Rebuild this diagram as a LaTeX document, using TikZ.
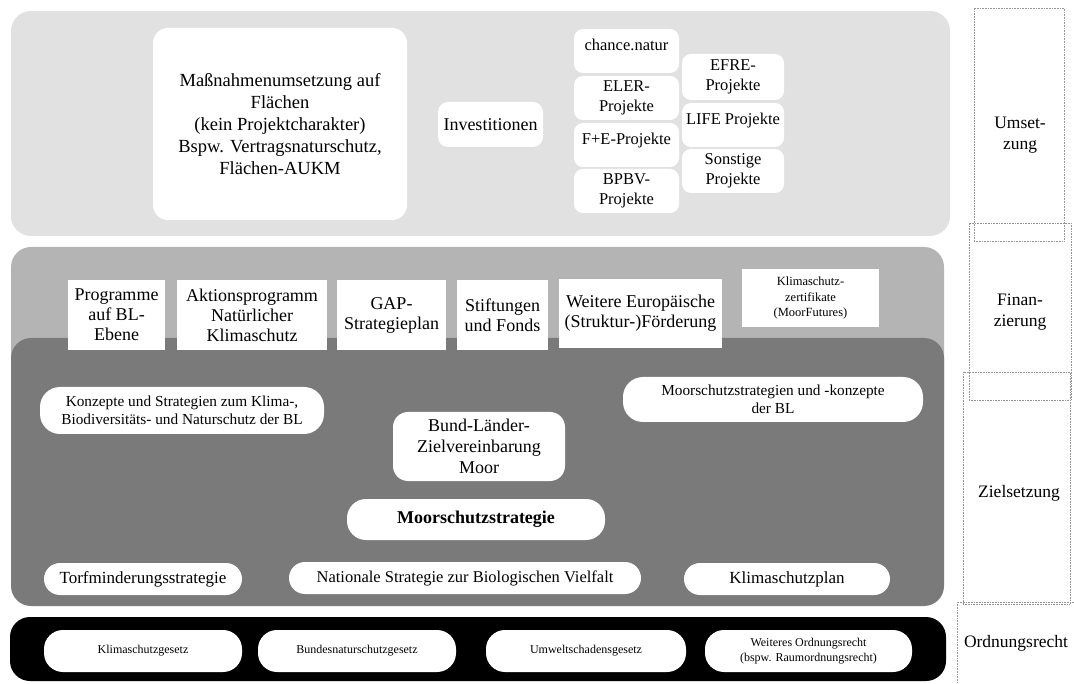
\documentclass[tikz,border=0pt]{standalone}
\usepackage{fontspec}
\setmainfont{Liberation Serif}
\newcommand\myfs[2]{\fontsize{#1}{#2}\selectfont}
\definecolor{topgray}{RGB}{225,225,225}
\definecolor{midgray}{RGB}{180,180,180}
\definecolor{darkgray}{RGB}{122,122,122}
\definecolor{dotgray}{RGB}{150,150,150}
\tikzset{
  panel/.style={inner sep=0pt, rounded corners=20pt, draw=none},
  wbox/.style={fill=white, inner sep=0pt, align=center, text=black, draw=none},
  projbox/.style={wbox, rounded corners=9pt, minimum width=105pt, minimum height=44pt, font=\myfs{16.5}{19.5}},
  finbox/.style={wbox, minimum height=70pt, font=\myfs{18}{20}},
  pill/.style={wbox, rounded corners=16pt, font=\myfs{16.5}{19}},
  lawpill/.style={wbox, rounded corners=19pt, minimum height=42pt, font=\myfs{12}{15}},
  levelbox/.style={draw=dotgray, densely dotted, line width=0.6pt, inner sep=0pt},
  levellabel/.style={align=center, font=\myfs{17.5}{21}, inner sep=0pt}
}
\begin{document}
\begin{tikzpicture}[x=1pt,y=-1pt]
\useasboundingbox (0,0) rectangle (1074,684);
\fill[white] (0,0) rectangle (1074,684);

% ---- level boxes (right column)
\node[levelbox, minimum width=90pt, minimum height=233pt] (lvU) at (1019,124.5) {};
\node[levelbox, minimum width=102pt, minimum height=177pt] (lvF) at (1020,311.5) {};
\node[levelbox, minimum width=107pt, minimum height=232pt] (lvZ) at (1016.5,488) {};
\node[levelbox, minimum width=130pt, minimum height=100pt] (lvO) at (1022,652) {};
\node[levellabel] (lU) at (1020,135) {Umset-\\zung};
\node[levellabel] (lF) at (1020,312) {Finan-\\zierung};
\node[levellabel] (lZ) at (1019,493) {Zielsetzung};
\node[levellabel] (lO) at (1016,643) {Ordnungsrecht};

% ---- Umsetzung panel
\node[panel, fill=topgray, minimum width=939pt, minimum height=225pt] (pU) at (480.5,123.5) {};
\node[wbox, rounded corners=15pt, minimum width=254pt, minimum height=192pt, font=\myfs{18.5}{22}] (mass) at (280,124)
  {Maßnahmenumsetzung auf\\Flächen\\(kein Projektcharakter)\\Bspw. Vertragsnaturschutz,\\Flächen-AUKM};
\node[wbox, rounded corners=10pt, minimum width=105pt, minimum height=45pt, font=\myfs{18}{21}] (inv) at (490.5,124.5) {Investitionen};
\node[projbox, text height=0pt, text depth=0pt] (chance) at (626.5,51) {chance.natur};
\node[projbox] (eler) at (626.5,98) {ELER-\\Projekte};
\node[projbox, text height=0pt, text depth=0pt] (fue) at (626.5,145) {F+E-Projekte};
\node[projbox] (bpbv) at (626.5,191) {BPBV-\\Projekte};
\node[projbox, minimum width=102pt, minimum height=46pt] (efre) at (733,77) {EFRE-\\Projekte};
\node[projbox, minimum width=102pt, text height=0pt, text depth=0pt] (life) at (733,125) {LIFE Projekte};
\node[projbox, minimum width=102pt] (sonst) at (733,171) {Sonstige\\Projekte};

% ---- Finanzierung and Zielsetzung panels
\node[panel, fill=midgray, minimum width=933pt, minimum height=173pt] (pF) at (477.5,333.5) {};
\node[panel, fill=darkgray, minimum width=933pt, minimum height=268pt] (pZ) at (477.5,472) {};

% ---- Finanzierung boxes (overlapping the dark panel)
\node[finbox, minimum width=97pt] (prog) at (116.5,315) {Programme\\auf BL-\\Ebene};
\node[finbox, minimum width=150pt] (anK) at (252,315) {Aktionsprogramm\\Natürlicher\\Klimaschutz};
\node[finbox, minimum width=109pt] (gap) at (391.5,315) {GAP-\\Strategieplan};
\node[finbox, minimum width=91pt] (stift) at (502.5,315) {Stiftungen\\und Fonds};
\node[finbox, minimum width=163pt, minimum height=69pt] (eu) at (640.5,313.5) {Weitere Europäische\\(Struktur-)Förderung};
\node[wbox, minimum width=137pt, minimum height=58pt, font=\myfs{12.5}{15.5}] (zert) at (810.5,298) {Klimaschutz-\\zertifikate\\(MoorFutures)};

% ---- Zielsetzung items
\node[pill, rounded corners=20pt, minimum width=284pt, minimum height=47pt, font=\myfs{15.3}{18}] (konz) at (182,410.5)
  {Konzepte und Strategien zum Klima-,\\Biodiversitäts- und Naturschutz der BL};
\node[pill, rounded corners=20pt, minimum width=300pt, minimum height=45pt, font=\myfs{15.3}{18}] (mbl) at (773,399.5)
  {Moorschutzstrategien und -konzepte\\der BL};
\node[pill, rounded corners=15pt, minimum width=172pt, minimum height=69pt, font=\myfs{18}{21}] (bl) at (479,446.5)
  {Bund-Länder-\\Zielvereinbarung\\Moor};
\node[pill, rounded corners=19pt, minimum width=258pt, minimum height=41pt, font=\myfs{18}{21}\bfseries] (ms) at (476,519.5)
  {Moorschutzstrategie};
\node[pill, minimum width=198pt, minimum height=32pt, font=\myfs{17}{20}] (torf) at (143,579) {Torfminderungsstrategie};
\node[pill, minimum width=352pt, minimum height=32pt, font=\myfs{16.5}{20}] (nbs) at (465,578) {Nationale Strategie zur Biologischen Vielfalt};
\node[pill, minimum width=206pt, minimum height=32pt, font=\myfs{17}{20}] (ksp) at (787,579) {Klimaschutzplan};

% ---- Ordnungsrecht bar
\node[panel, fill=black, minimum width=936pt, minimum height=64pt] (pO) at (478,649) {};
\node[lawpill, minimum width=198pt] (ksg) at (143,651) {Klimaschutzgesetz};
\node[lawpill, minimum width=198pt] (bnsg) at (357,651) {Bundesnaturschutzgesetz};
\node[lawpill, minimum width=200pt] (usg) at (586,651) {Umweltschadensgesetz};
\node[lawpill, minimum width=207pt] (wor) at (808.5,651) {Weiteres Ordnungsrecht\\(bspw. Raumordnungsrecht)};
\end{tikzpicture}
\end{document}
